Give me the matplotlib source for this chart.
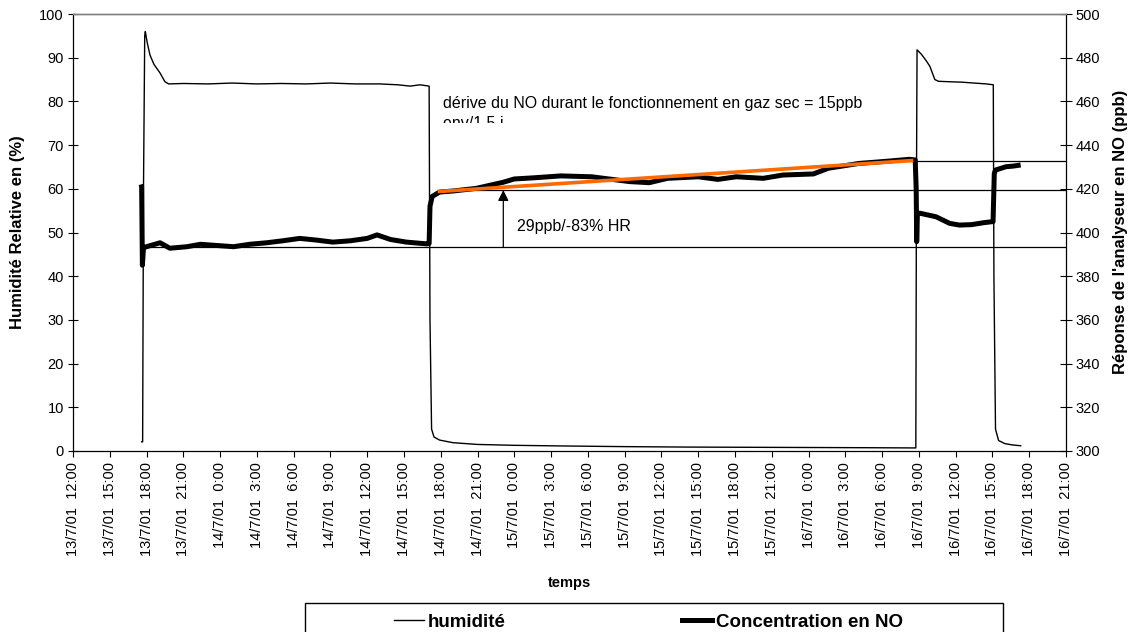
import numpy as np
import matplotlib
matplotlib.use("Agg")
import matplotlib.pyplot as plt
from matplotlib.patches import Rectangle
from matplotlib.lines import Line2D

plt.rcParams['font.family'] = ['Liberation Sans', 'DejaVu Sans']

# ---------------- data (hours since 13/7/01 12:00) ----------------
tick_hours = list(range(0, 82, 3))
tick_labels = [
    "13/7/01  12:00", "13/7/01  15:00", "13/7/01  18:00", "13/7/01  21:00",
    "14/7/01  0:00", "14/7/01  3:00", "14/7/01  6:00", "14/7/01  9:00",
    "14/7/01  12:00", "14/7/01  15:00", "14/7/01  18:00", "14/7/01  21:00",
    "15/7/01  0:00", "15/7/01  3:00", "15/7/01  6:00", "15/7/01  9:00",
    "15/7/01  12:00", "15/7/01  15:00", "15/7/01  18:00", "15/7/01  21:00",
    "16/7/01  0:00", "16/7/01  3:00", "16/7/01  6:00", "16/7/01  9:00",
    "16/7/01  12:00", "16/7/01  15:00", "16/7/01  18:00", "16/7/01  21:00",
]

# humidity (%)
hum_t = [5.60, 5.68, 5.75, 5.85, 5.90, 6.05, 6.28, 6.60, 7.10, 7.50, 7.80,
         9.0, 11.0, 13.0, 15.0, 17.0, 19.0, 21.0, 23.0, 25.0, 26.5, 27.5, 28.3, 29.05,
         29.12, 29.25, 29.45, 29.9, 31.0, 33.0, 36.0, 40.0, 45.0, 50.0, 55.0, 60.0, 65.0, 68.75,
         68.80, 68.85, 69.2, 69.6, 69.9, 70.3, 70.6, 71.5, 72.5, 73.5, 74.5, 75.07,
         75.12, 75.25, 75.5, 76.0, 76.6, 77.3]
hum_v = [2.1, 2.1, 60.0, 95.0, 96.0, 93.5, 90.6, 88.5, 86.5, 84.5, 84.0,
         84.1, 84.0, 84.2, 84.0, 84.1, 84.0, 84.2, 84.0, 84.0, 83.8, 83.5, 83.8, 83.5,
         30.0, 5.0, 3.2, 2.5, 1.9, 1.5, 1.3, 1.15, 1.0, 0.9, 0.85, 0.8, 0.75, 0.7,
         60.0, 91.8, 90.8, 89.3, 88.0, 85.0, 84.6, 84.5, 84.4, 84.2, 84.0, 83.8,
         40.0, 5.0, 2.4, 1.7, 1.4, 1.2]

# NO response (ppb)
no_t = [5.55, 5.60, 5.66, 5.75, 6.0, 7.1, 7.9, 9.3, 10.4, 13.1, 14.4, 15.8, 17.1, 18.5,
        19.9, 21.2, 22.6, 24.0, 24.8, 25.9, 27.2, 28.85, 29.05,
        29.12, 29.3, 29.9, 31.0, 32.9, 35.1, 36.0, 37.5, 39.8, 42.3, 45.4, 47.0, 48.5,
        51.0, 52.6, 54.1, 56.3, 57.9, 60.4, 61.6, 64.1, 66.6, 68.2, 68.7,
        68.78, 68.82, 68.88, 69.1, 70.4, 71.5, 72.3, 73.3, 74.3, 75.05,
        75.15, 75.25, 75.6, 76.1, 76.7, 77.3]
no_v = [422.0, 421.0, 385.0, 393.0, 393.5, 395.3, 392.8, 393.5, 394.6, 393.5, 394.6, 395.3, 396.2, 397.3,
        396.5, 395.6, 396.2, 397.3, 398.9, 396.8, 395.6, 394.8, 395.0,
        412.0, 416.5, 418.5, 419.0, 420.2, 423.0, 424.5, 425.0, 425.9, 425.5, 423.3, 422.8, 424.8,
        425.5, 424.3, 425.5, 424.8, 426.3, 426.8, 429.4, 431.6, 432.7, 433.5, 433.2,
        420.0, 395.8, 408.8, 408.8, 407.2, 404.2, 403.4, 403.6, 404.5, 405.0,
        427.0, 428.6, 429.2, 430.1, 430.4, 430.9]

# drift trend line (ppb)
trend_t = [29.9, 68.4]
trend_v = [418.8, 432.9]

# reference levels (ppb) and their start times
ref_levels = [393.2, 419.4, 432.8]
ref_starts = [6.1, 29.9, 68.8]

arrow_t = 35.1
arrow_from, arrow_to = 393.2, 419.4

# ---------------- figure ----------------
W, H = 1134, 632
fig = plt.figure(figsize=(W / 100, H / 100), dpi=100)
ax = fig.add_axes([73 / W, 1 - 451 / H, 993 / W, 437 / H])
ax2 = ax.twinx()

ax.plot(hum_t, hum_v, color='black', lw=1.0, zorder=3)
ax2.plot(no_t, no_v, color='black', lw=3.6, solid_capstyle='butt', zorder=3)
ax2.plot(trend_t, trend_v, color='#FF6A00', lw=2.6, zorder=4)
for lev, st in zip(ref_levels, ref_starts):
    ax2.plot([st, 81], [lev, lev], color='black', lw=0.9, zorder=2)

ax2.annotate('', xy=(arrow_t, arrow_to), xytext=(arrow_t, arrow_from),
             arrowprops=dict(arrowstyle='-|>', color='black', lw=0.9,
                             mutation_scale=16, shrinkA=0, shrinkB=0))

ax.set_xlim(0, 81)
ax.set_ylim(0, 100)
ax2.set_ylim(300, 500)
ax.set_xticks(tick_hours)
ax.set_xticklabels(tick_labels, rotation=90, fontsize=10.5)
ax.set_yticks(range(0, 101, 10))
ax2.set_yticks(range(300, 501, 20))
ax.tick_params(axis='y', direction='inout', length=7, width=0.8, labelsize=10.5, pad=3)
ax.tick_params(axis='x', direction='out', length=4, width=0.8, pad=4)
ax2.tick_params(axis='y', direction='inout', length=8, width=0.8, labelsize=10.5, pad=3)

for a in (ax, ax2):
    a.spines['top'].set_color('#808080')
    a.spines['top'].set_linewidth(1.0)
ax.spines['right'].set_visible(False)
ax2.spines['left'].set_visible(False)
ax2.spines['bottom'].set_visible(False)
ax.spines['left'].set_linewidth(0.9)
ax.spines['bottom'].set_linewidth(0.9)
ax2.spines['right'].set_linewidth(0.9)

# annotation texts
ax2.text(30.2, 459.0, "dérive du NO durant le fonctionnement en gaz sec = 15ppb",
         fontsize=11.5, ha='left', va='center')
t2 = ax2.text(30.2, 449.7, "env/1,5 j", fontsize=11.5, ha='left', va='center')
clip = Rectangle((0, 1 - 123 / H), 1, 0.1, transform=fig.transFigure)
t2.set_clip_on(True)
t2.set_clip_path(clip)
ax2.text(36.2, 402.7, "29ppb/-83% HR", fontsize=11.5, ha='left', va='center')

# axis labels
fig.text(18 / W, 1 - 232 / H, "Humidité Relative en (%)", rotation=90,
         ha='center', va='center', fontsize=12, weight='bold')
fig.text(1120 / W, 1 - 232 / H, "Réponse de l'analyseur en NO (ppb)", rotation=90,
         ha='center', va='center', fontsize=12, weight='bold')
fig.text(569 / W, 1 - 583 / H, "temps", ha='center', va='center', fontsize=10.5, weight='bold')

# legend
box = Rectangle((305 / W, 1 - 660 / H), 698 / W, 57 / H, transform=fig.transFigure,
                fill=False, edgecolor='black', lw=1.0)
fig.patches.append(box)
handles = [Line2D([], [], color='black', lw=1.0), Line2D([], [], color='black', lw=3.6)]
fig.legend(handles, ["humidité", "Concentration en NO"], ncol=2, frameon=False,
           loc='center left', bbox_to_anchor=(394 / W, 1 - 622 / H),
           prop=dict(weight='bold', size=13.5), handlelength=1.6, handletextpad=0.2,
           columnspacing=9.4, borderaxespad=0, borderpad=0)

fig.savefig("out.png", dpi=100)
